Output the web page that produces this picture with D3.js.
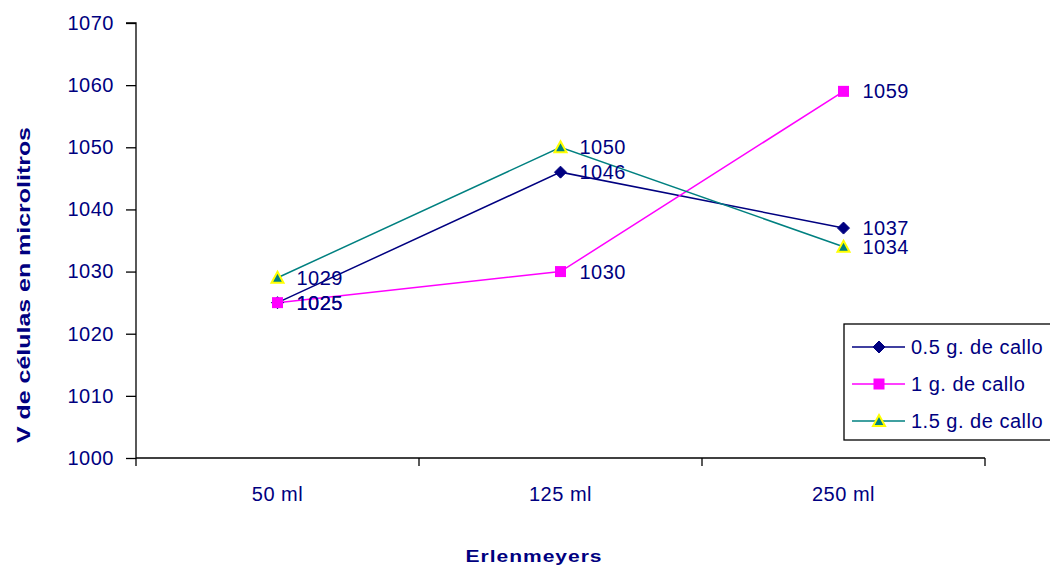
<!DOCTYPE html>
<html>
<head>
<meta charset="utf-8">
<script src="https://cdn.jsdelivr.net/npm/d3@7"></script>
<style>
  body { margin: 0; background: #fff; }
  svg { font-family: "Liberation Sans", Arial, sans-serif; }
</style>
</head>
<body>
<svg id="chart" width="1050" height="568"></svg>
<script>
// categories and series values
const categories = ["50 ml", "125 ml", "250 ml"];
const serie05 = [1025, 1046, 1037];
const serie1 = [1025, 1030, 1059];
const serie15 = [1029, 1050, 1034];
const seriesNames = ["0.5 g. de callo", "1 g. de callo", "1.5 g. de callo"];
const yTicks = [1000, 1010, 1020, 1030, 1040, 1050, 1060, 1070];

const navy = "#000080";
const fs = 20, ls = 0.5; // Excel-ish wide Arial
const series = [
  { name: seriesNames[0], values: serie05, color: "#000080", marker: "diamond" },
  { name: seriesNames[1], values: serie1, color: "#FF00FF", marker: "square" },
  { name: seriesNames[2], values: serie15, color: "#008080", marker: "triangle" }
];

const svg = d3.select("#chart");
const plotLeft = 136, plotRight = 985, plotTop = 23, plotBottom = 458;

const x = d3.scaleBand().domain(categories).range([plotLeft, plotRight]);
const y = d3.scaleLinear().domain([1000, 1070]).range([plotBottom, plotTop]);

// y axis
const yAxis = svg.append("g")
  .attr("transform", `translate(${plotLeft},0)`)
  .call(d3.axisLeft(y).tickValues(yTicks).tickSize(10).tickPadding(12).tickFormat(d3.format("d")));
yAxis.select(".domain").attr("stroke", "#000").attr("stroke-width", 1.3).attr("d", `M-10,${plotTop}H0V${plotBottom}`);
yAxis.selectAll(".tick line").attr("stroke", "#000").attr("stroke-width", 1.3);
yAxis.selectAll("text").attr("fill", navy).attr("font-size", fs).attr("letter-spacing", ls);

// x axis
const xAxis = svg.append("g")
  .attr("transform", `translate(0,${plotBottom})`)
  .call(d3.axisBottom(x).tickSize(0).tickPadding(29));
xAxis.select(".domain").attr("stroke", "#000").attr("stroke-width", 1.3).attr("d", `M${plotLeft},0H${plotRight}`);
xAxis.selectAll("text").attr("fill", navy).attr("font-size", fs).attr("letter-spacing", ls);
// category separator ticks
const sepPos = categories.map(c => x(c)).concat([x(categories[categories.length - 1]) + x.bandwidth()]);
xAxis.selectAll(".sep").data(sepPos).enter().append("line")
  .attr("x1", d => d).attr("x2", d => d)
  .attr("y1", 0).attr("y2", 8)
  .attr("stroke", "#000").attr("stroke-width", 1.3);

// axis titles
svg.append("text")
  .attr("transform", `translate(30,285) rotate(-90)`)
  .attr("text-anchor", "middle")
  .attr("font-size", 18).attr("font-weight", "bold").attr("fill", navy)
  .attr("textLength", 316).attr("lengthAdjust", "spacingAndGlyphs")
  .text("V de células en microlitros");
svg.append("text")
  .attr("x", 534).attr("y", 562)
  .attr("text-anchor", "middle")
  .attr("font-size", 17).attr("font-weight", "bold").attr("fill", navy)
  .attr("letter-spacing", 0.8)
  .attr("textLength", 137).attr("lengthAdjust", "spacingAndGlyphs")
  .text("Erlenmeyers");

const cx = c => x(c) + x.bandwidth() / 2;

function drawMarker(g, type, color) {
  if (type === "diamond") {
    g.append("path").attr("d", "M0,-6L6,0L0,6L-6,0Z").attr("fill", color).attr("stroke", color);
  } else if (type === "square") {
    g.append("rect").attr("x", -5.5).attr("y", -5.5).attr("width", 11).attr("height", 11).attr("fill", color);
  } else {
    g.append("path").attr("d", "M0,-6L6,5L-6,5Z").attr("fill", color).attr("stroke", "#FFFF00").attr("stroke-width", 2);
  }
}

const line = d3.line().x((d, i) => cx(categories[i])).y(d => y(d));

series.forEach(s => {
  svg.append("path")
    .datum(s.values)
    .attr("fill", "none")
    .attr("stroke", s.color)
    .attr("stroke-width", 1.5)
    .attr("d", line);
});

series.forEach(s => {
  s.values.forEach((v, i) => {
    const g = svg.append("g").attr("transform", `translate(${cx(categories[i])},${y(v)})`);
    drawMarker(g, s.marker, s.color);
  });
});

// data labels
series.forEach(s => {
  s.values.forEach((v, i) => {
    svg.append("text")
      .attr("x", cx(categories[i]) + 19)
      .attr("y", y(v) + 7)
      .attr("font-size", fs).attr("letter-spacing", ls).attr("fill", navy)
      .text(v);
  });
});

// legend
const legend = svg.append("g").attr("transform", "translate(844,324)");
legend.append("rect")
  .attr("width", 220).attr("height", 116)
  .attr("fill", "#fff").attr("stroke", "#000").attr("stroke-width", 1.3);
series.forEach((s, i) => {
  const ly = 23 + i * 37;
  legend.append("line")
    .attr("x1", 8).attr("x2", 61).attr("y1", ly).attr("y2", ly)
    .attr("stroke", s.color).attr("stroke-width", 1.5);
  const g = legend.append("g").attr("transform", `translate(35,${ly})`);
  drawMarker(g, s.marker, s.color);
  legend.append("text")
    .attr("x", 67).attr("y", ly + 7)
    .attr("font-size", fs).attr("letter-spacing", ls).attr("fill", navy)
    .text(s.name);
});
</script>
</body>
</html>
